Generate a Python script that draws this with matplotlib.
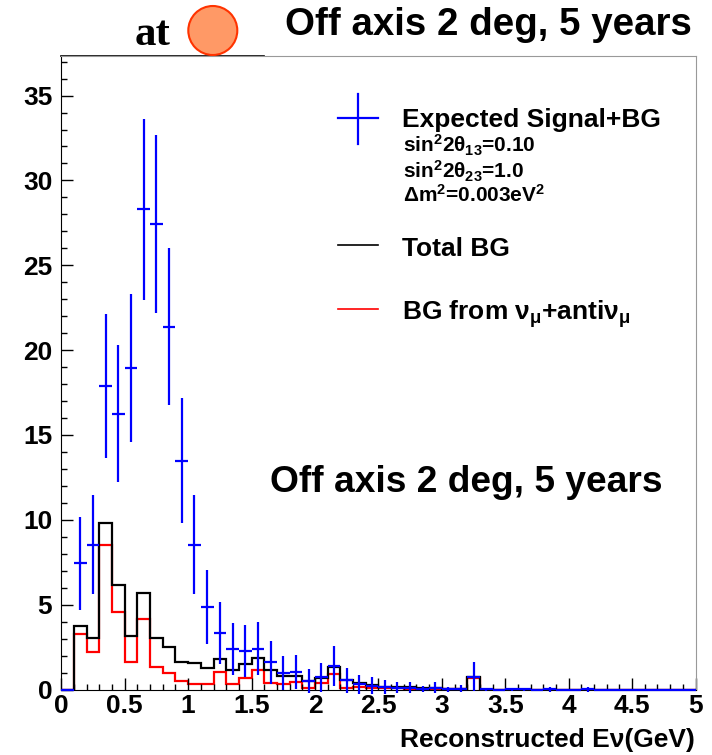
import numpy as np
import matplotlib
matplotlib.use("Agg")
from matplotlib import pyplot as plt
from matplotlib import ticker
from matplotlib.patches import Ellipse
from matplotlib.lines import Line2D

# reconstructed energy binning (GeV)
bin_edges = np.round(np.arange(51) * 0.1, 2)

# expected signal + BG (blue crosses)
signal_bg = [0, 7.43, 8.53, 17.88, 16.25, 18.96, 28.29, 27.45, 21.37, 13.49,
             8.53, 4.86, 3.31, 2.37, 2.27, 2.41, 1.61, 0.98, 1.02, 0.50,
             0.71, 1.37, 0.55, 0.30, 0.23, 0.16, 0.11, 0.11, 0.03, 0.10,
             0.02, 0.04, 0.75, 0.01, 0, 0.01, 0.01, 0, 0.02, 0,
             0, 0.02, 0, 0, 0, 0, 0, 0, 0, 0]

# total background (black)
total_bg = [0, 3.76, 3.04, 9.84, 6.16, 3.14, 5.67, 3.06, 2.49, 1.65,
            1.57, 1.25, 1.81, 1.17, 1.52, 1.84, 1.17, 0.80, 0.82, 0.49,
            0.65, 1.33, 0.55, 0.36, 0.26, 0.17, 0.17, 0.13, 0.08, 0.08,
            0.05, 0.05, 0.76, 0, 0, 0, 0, 0, 0, 0,
            0, 0, 0, 0, 0, 0, 0, 0, 0, 0]

# BG from numu + anti-numu (red)
numu_bg = [0, 3.27, 2.22, 8.49, 4.57, 1.65, 4.16, 1.35, 0.98, 0.49,
           0.33, 0.30, 1.02, 0.33, 0.68, 1.14, 0.37, 0.31, 0.43, 0.08,
           0.39, 0.94, 0.08, 0.12, 0.10, 0.06, 0.06, 0.04, 0.03, 0.03,
           0.02, 0.02, 0.70, 0, 0, 0, 0, 0, 0, 0,
           0, 0, 0, 0, 0, 0, 0, 0, 0, 0]

W, H = 712, 755


def fx(px):
    return px / W


def fy(py):
    return 1 - py / H


plt.rcParams['font.family'] = ['Liberation Sans', 'DejaVu Sans']
plt.rcParams['font.weight'] = 'bold'
plt.rcParams['mathtext.fontset'] = 'custom'
plt.rcParams['mathtext.rm'] = 'Liberation Sans:bold'
plt.rcParams['mathtext.it'] = 'Liberation Sans:bold'
plt.rcParams['mathtext.bf'] = 'Liberation Sans:bold'
plt.rcParams['mathtext.sf'] = 'Liberation Sans:bold'

fig = plt.figure(figsize=(W / 100, H / 100), dpi=100)
ax = fig.add_axes([fx(61.3), fy(689.5), fx(695.5) - fx(61.3), fy(55.7) - fy(689.5)])

lw = 1.6
centers = (bin_edges[:-1] + bin_edges[1:]) / 2
ax.stairs(numu_bg, bin_edges, color='red', lw=lw, baseline=0)
ax.stairs(total_bg, bin_edges, color='black', lw=lw, baseline=0)
sig = np.array(signal_bg)
ax.errorbar(centers, sig, yerr=np.sqrt(sig), xerr=0.05, fmt='none',
            ecolor='blue', elinewidth=lw, capsize=0, zorder=4, clip_on=False)

ax.set_xlim(0, 5)
ax.set_ylim(0, 37.35)
ax.xaxis.set_major_locator(ticker.MultipleLocator(0.5))
ax.xaxis.set_minor_locator(ticker.MultipleLocator(0.1))
ax.yaxis.set_major_locator(ticker.MultipleLocator(5))
ax.yaxis.set_minor_locator(ticker.MultipleLocator(1))
fmt = ticker.FuncFormatter(lambda v, p: '{:g}'.format(v))
ax.xaxis.set_major_formatter(fmt)
ax.yaxis.set_major_formatter(fmt)
ax.tick_params(which='both', direction='in', top=False, right=False, width=1)
ax.tick_params(which='major', length=8.3, labelsize=19)
ax.tick_params(axis='y', which='major', pad=6.5)
ax.tick_params(axis='x', which='major', pad=3)
ax.tick_params(which='minor', length=4.3)
for s in ['top', 'right']:
    ax.spines[s].set_color('#999999')
ax.plot([0, 0.32], [1, 1], transform=ax.transAxes, color='black', lw=1.2, clip_on=False)

# x axis title
fig.text(fx(695), fy(747), 'Reconstructed E\u03bd(GeV)', ha='right', va='baseline', size=19)

# titles
fig.text(fx(285), fy(35), 'Off axis 2 deg, 5 years', ha='left', va='baseline', size=27.7)
fig.text(fx(270), fy(492), 'Off axis 2 deg, 5 years', ha='left', va='baseline', size=26.7)
fig.text(fx(135), fy(45), 'at', family='Liberation Serif', weight='bold', size=31, va='baseline')
fig.add_artist(Ellipse((fx(212.8), fy(30.5)), 49 / W, 49 / H, transform=fig.transFigure,
                       facecolor='#ff9966', edgecolor='#ff3300', lw=1.5, zorder=5))

# legend
fig.add_artist(Line2D([fx(338), fx(378)], [fy(118), fy(118)], color='blue', lw=lw))
fig.add_artist(Line2D([fx(358), fx(358)], [fy(94), fy(144)], color='blue', lw=lw))
fig.add_artist(Line2D([fx(338), fx(378)], [fy(245), fy(245)], color='black', lw=1.2))
fig.add_artist(Line2D([fx(338), fx(378)], [fy(309), fy(309)], color='red', lw=1.2))
fig.text(fx(402), fy(127), 'Expected Signal+BG', va='baseline', size=19)
fig.text(fx(403), fy(153), r'sin$^{2}$2$\theta_{13}$=0.10', va='baseline', size=15)
fig.text(fx(403), fy(178), r'sin$^{2}$2$\theta_{23}$=1.0', va='baseline', size=15)
fig.text(fx(403), fy(202), r'$\Delta$m$^{2}$=0.003eV$^{2}$', va='baseline', size=15)
fig.text(fx(402), fy(256), 'Total BG', va='baseline', size=19)
fig.text(fx(402), fy(320), r'BG from $\nu_{\mu}$+anti$\nu_{\mu}$', va='baseline', size=19)

fig.savefig('out.png', dpi=100)
